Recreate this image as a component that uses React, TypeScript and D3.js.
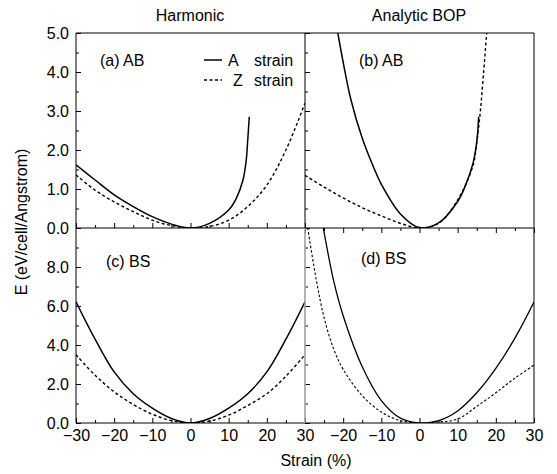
import React, { useEffect, useRef } from 'react';
import * as d3 from 'd3';

// strain (%) sampled along each curve, energy E (eV/cell/Angstrom)
const strainFull = [-30, -25, -20, -15, -10, -5, 0, 5, 10, 15, 20, 25, 30];

// (a) Harmonic, AB
const harmABStrainA = [-30, -25, -20, -15, -10, -5, 0, 5, 10, 12, 13.75, 14.6, 15, 15.4];
const harmABEnergyA = [1.62, 1.23, 0.85, 0.55, 0.29, 0.1, 0, 0.12, 0.46, 0.76, 1.23, 1.74, 2.26, 2.85];
const harmABEnergyZ = [1.36, 0.97, 0.67, 0.42, 0.2, 0.06, 0, 0.04, 0.2, 0.55, 1.1, 2.0, 3.2];

// (b) Analytic BOP, AB
const bopABStrainA = [-21.4, -20, -18, -15, -12, -10, -5, 0, 5, 10, 12, 14, 15, 15.5];
const bopABEnergyA = [5.0, 4.25, 3.3, 2.3, 1.55, 1.12, 0.36, 0.01, 0.13, 0.68, 1.08, 1.65, 2.2, 2.85];
const bopABStrainZ = [-30, -25, -20, -15, -10, -5, 0, 5, 10, 14, 15, 16, 16.8, 17.6];
const bopABEnergyZ = [1.35, 1.05, 0.77, 0.52, 0.31, 0.12, 0, 0.12, 0.72, 1.6, 2.2, 3.05, 4.0, 5.0];

// (c) Harmonic, BS
const harmBSEnergyA = [6.22, 4.3, 2.62, 1.5, 0.76, 0.23, 0, 0.23, 0.76, 1.5, 2.62, 4.3, 6.22];
const harmBSEnergyZ = [3.5, 2.45, 1.6, 0.95, 0.45, 0.12, 0, 0.1, 0.4, 0.9, 1.5, 2.4, 3.5];

// (d) Analytic BOP, BS
const bopBSStrainA = [-25.2, -22.5, -20, -15, -10, -5, 0, 5, 10, 15, 20, 25, 30];
const bopBSEnergyA = [10, 7.3, 5.5, 2.88, 1.15, 0.25, 0, 0.12, 0.62, 1.55, 2.8, 4.35, 6.2];
const bopBSStrainZ = [-29.3, -27, -25, -22.5, -20, -15, -10, -5, 0, 5, 10, 15, 20, 25, 30];
const bopBSEnergyZ = [10, 7.3, 5.4, 3.8, 2.75, 1.4, 0.56, 0.12, 0, 0.05, 0.2, 0.85, 1.55, 2.3, 2.97];

const columnTitles = ['Harmonic', 'Analytic BOP'];
const panelLabels = ['(a) AB', '(b) AB', '(c) BS', '(d) BS'];
const legendNames = ['A', 'Z'];

const font = '"Liberation Sans", Arial, Helvetica, sans-serif';

const zip = (xs, ys) => xs.map((x, i) => [x, ys[i]]);

export default function App() {
  const ref = useRef(null);

  useEffect(() => {
    const svg = d3.select(ref.current);
    svg.selectAll('*').remove();

    const left = 76, mid = 305, right = 534;
    const top = 33, split = 228, bottom = 423;

    const xL = d3.scaleLinear().domain([-30, 30]).range([left, mid]);
    const xR = d3.scaleLinear().domain([-30, 30]).range([mid, right]);
    const yT = d3.scaleLinear().domain([0, 5]).range([split, top]);
    const yB = d3.scaleLinear().domain([0, 10]).range([bottom, split]);

    const panels = [
      { id: 'a', x: xL, y: yT, label: panelLabels[0], lx: 100, ly: 66,
        A: zip(harmABStrainA, harmABEnergyA), Z: zip(strainFull, harmABEnergyZ) },
      { id: 'b', x: xR, y: yT, label: panelLabels[1], lx: 359, ly: 66,
        A: zip(bopABStrainA, bopABEnergyA), Z: zip(bopABStrainZ, bopABEnergyZ) },
      { id: 'c', x: xL, y: yB, label: panelLabels[2], lx: 106, ly: 267,
        A: zip(strainFull, harmBSEnergyA), Z: zip(strainFull, harmBSEnergyZ) },
      { id: 'd', x: xR, y: yB, label: panelLabels[3], lx: 361, ly: 264,
        A: zip(bopBSStrainA, bopBSEnergyA), Z: zip(bopBSStrainZ, bopBSEnergyZ) },
    ];

    const defs = svg.append('defs');

    panels.forEach((p, i) => {
      const [x0, x1] = p.x.range();
      const [y1, y0] = p.y.range();
      defs.append('clipPath').attr('id', 'clip-' + p.id)
        .append('rect').attr('x', x0).attr('y', y0).attr('width', x1 - x0).attr('height', y1 - y0);

      const isTop = i < 2;
      const isLeft = i % 2 === 0;
      const yMax = p.y.domain()[1];

      // left axis (inward ticks)
      const minorStep = isTop ? 0.5 : 1;
      const minorVals = d3.range(0, yMax + 0.001, minorStep);
      const gy = svg.append('g').attr('transform', `translate(${x0},0)`);
      gy.call(d3.axisLeft(p.y).tickValues(minorVals).tickSize(-3).tickFormat(''));
      gy.select('.domain').remove();
      const gyMaj = svg.append('g').attr('transform', `translate(${x0},0)`);
      gyMaj.call(
        d3.axisLeft(p.y).tickValues(isTop ? d3.range(0, 5.001, 1) : d3.range(0, 10.001, 2))
          .tickSize(-5).tickPadding(7)
          .tickFormat(d => (isLeft && d <= (isTop ? 5 : 8) ? d3.format('.1f')(d) : ''))
      );
      gyMaj.select('.domain').remove();

      // bottom axis
      const down = i === 1; // top-right panel shows its ticks hanging below
      const gx = svg.append('g').attr('transform', `translate(0,${y1})`);
      gx.call(d3.axisBottom(p.x).tickValues([-25, -15, -5, 5, 15, 25])
        .tickSize(down ? 3 : -3).tickFormat(''));
      gx.select('.domain').remove();
      const gxMaj = svg.append('g').attr('transform', `translate(0,${y1})`);
      gxMaj.call(d3.axisBottom(p.x).tickValues(d3.range(-30, 31, 10))
        .tickSize(down ? 5 : -5).tickPadding(7)
        .tickFormat(d => (isTop || (!isLeft && d === -30) ? '' : d3.format('d')(d))));
      gxMaj.select('.domain').remove();

      // curves
      const line = d3.line().x(d => p.x(d[0])).y(d => p.y(d[1])).curve(d3.curveCatmullRom.alpha(0.5));
      const g = svg.append('g').attr('clip-path', `url(#clip-${p.id})`);
      g.append('path').datum(p.Z).attr('d', line)
        .attr('fill', 'none').attr('stroke', '#000')
        .attr('stroke-width', p.id === 'd' ? 1.1 : 1.4)
        .attr('stroke-dasharray', p.id === 'd' ? '2.5,2' : '3,2.5');
      g.append('path').datum(p.A).attr('d', line)
        .attr('fill', 'none').attr('stroke', '#000')
        .attr('stroke-width', p.id === 'd' ? 1.3 : 1.5);

      svg.append('text').attr('x', p.lx).attr('y', p.ly).text(p.label)
        .attr('font-size', 16);
    });

    // tick styling
    svg.selectAll('.tick line').attr('stroke', '#000').attr('stroke-width', 1);
    svg.selectAll('.tick text').attr('font-size', 16).attr('font-family', font).attr('fill', '#000');

    // frame
    const frame = svg.append('g').attr('stroke', '#000').attr('stroke-width', 1).attr('fill', 'none');
    frame.append('line').attr('x1', left).attr('x2', right).attr('y1', top).attr('y2', top);
    frame.append('line').attr('x1', left).attr('x2', right).attr('y1', split).attr('y2', split);
    frame.append('line').attr('x1', left).attr('x2', right).attr('y1', bottom).attr('y2', bottom);
    frame.append('line').attr('x1', left).attr('x2', left).attr('y1', top).attr('y2', bottom);
    frame.append('line').attr('x1', right).attr('x2', right).attr('y1', top).attr('y2', bottom);
    frame.append('line').attr('x1', mid).attr('x2', mid).attr('y1', top).attr('y2', split);
    frame.append('line').attr('x1', mid).attr('x2', mid).attr('y1', split).attr('y2', bottom)
      .attr('stroke', '#999').attr('stroke-width', 1.5);

    // legend in panel (a)
    const lg = svg.append('g');
    [60, 80].forEach((ly, i) => {
      lg.append('line').attr('x1', 204).attr('x2', 222).attr('y1', ly).attr('y2', ly)
        .attr('stroke', '#000').attr('stroke-width', i === 0 ? 1.5 : 1.4)
        .attr('stroke-dasharray', i === 0 ? null : '3,2.5');
      lg.append('text').attr('x', i === 0 ? 228 : 233).attr('y', ly + 6)
        .attr('font-size', 16).text(legendNames[i]);
      lg.append('text').attr('x', 254).attr('y', ly + 6)
        .attr('font-size', 16).text('strain');
    });

    // column titles
    svg.append('text').attr('x', 190).attr('y', 21).attr('text-anchor', 'middle')
      .attr('font-size', 16).text(columnTitles[0]);
    svg.append('text').attr('x', 419).attr('y', 21).attr('text-anchor', 'middle')
      .attr('font-size', 16).text(columnTitles[1]);

    // axis titles
    svg.append('text').attr('transform', 'translate(27,222) rotate(-90)')
      .attr('text-anchor', 'middle').attr('font-size', 16).text('E (eV/cell/Angstrom)');
    svg.append('text').attr('x', 316).attr('y', 466).attr('text-anchor', 'middle')
      .attr('font-size', 16).text('Strain (%)');
  }, []);

  return (
    <div style={{ position: 'absolute', left: 0, top: 0 }}>
      <svg ref={ref} width={557} height={474} fontFamily={font} style={{ display: 'block', background: '#fff' }} />
    </div>
  );
}
